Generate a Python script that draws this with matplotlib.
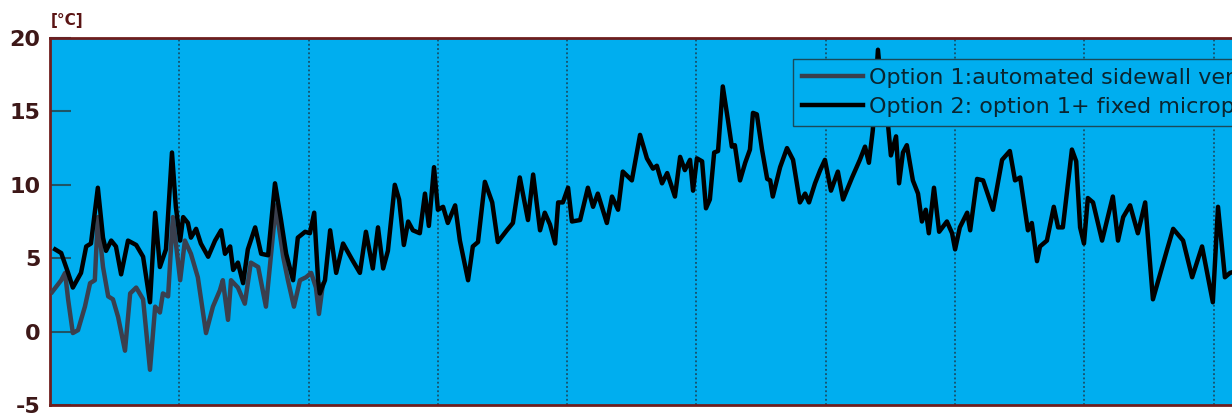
import matplotlib
matplotlib.use("Agg")
import matplotlib.pyplot as plt

# Daily mean indoor-outdoor temperature difference [°C]; x is day number
opt1_day = [0.5, 2.6, 3.5, 4.2, 5.3, 6.5, 8.1, 9.3, 10.4, 11.1, 12.3, 13.5, 14.6, 15.8,
            17.4, 18.6, 20.0, 21.6, 23.2, 24.4, 25.5, 26.2, 27.4, 28.5, 30.2, 31.3,
            32.7, 34.3, 36.2, 37.8, 39.4, 40.1, 41.3, 42.0, 43.6, 45.2, 46.6, 48.3,
            50.1, 52.4, 54.1, 55.2, 56.6, 58.0, 59.4, 60.6, 61.7, 62.4, 63.3]
opt1_temp = [2.7, 3.5, 4.0, 2.2, -0.1, 0.1, 1.7, 3.3, 3.5, 7.8, 4.4, 2.4, 2.2, 1.0,
             -1.3, 2.6, 3.0, 2.2, -2.6, 1.7, 1.3, 2.6, 2.4, 7.8, 3.5, 6.2,
             5.3, 3.7, -0.1, 1.7, 2.8, 3.5, 0.8, 3.5, 3.0, 1.9, 4.7, 4.4,
             1.7, 8.6, 5.1, 3.5, 1.7, 3.5, 3.7, 4.0, 3.0, 1.2, 3.2]

opt2_day = [1.2, 2.6, 4.2, 5.3, 7.2, 8.4, 9.5, 11.1, 12.3, 13.0, 14.2, 15.3, 16.5, 18.1,
            20.0, 21.6, 23.2, 24.4, 25.5, 26.9, 28.3, 29.2, 30.2, 30.9, 32.0, 32.7,
            33.9, 35.0, 36.7, 38.3, 39.7, 40.6, 41.8, 42.5, 43.6, 44.8, 45.9, 47.6,
            49.0, 50.6, 52.2, 53.6, 54.8, 56.4, 57.5, 59.2, 60.3, 61.3, 62.2, 62.6,
            63.8, 65.0, 66.4, 68.0, 70.1, 71.9, 73.3, 74.9, 76.1, 77.3, 78.4, 80.0,
            81.0, 82.1, 83.1, 84.2, 85.8, 87.0, 87.9, 89.1, 90.0, 91.2, 92.3, 94.0,
            95.1, 97.0, 98.1, 99.3, 100.9, 102.6, 103.9, 106.0, 107.4, 109.0, 110.9,
            112.1, 113.7, 114.8, 116.0, 117.2, 117.9, 119.0, 120.2, 121.1, 123.0,
            124.8, 126.0, 127.1, 129.2, 130.4, 131.8, 132.9, 135.0, 136.9, 138.5,
            139.9, 140.8, 142.0, 143.2, 145.0, 146.2, 147.3, 148.5, 149.2, 150.1,
            151.3, 152.2, 153.1, 154.1, 155.0, 156.1, 157.3, 158.2, 158.9, 160.1,
            161.3, 162.4, 163.1, 164.0, 165.2, 166.4, 167.1, 167.7, 169.4, 171.0,
            172.4, 174.0, 175.2, 176.1, 177.5, 178.7, 179.8, 181.2, 182.8, 184.0,
            186.1, 187.9, 189.1, 190.0, 190.9, 192.1, 193.3, 194.4, 195.1, 196.3,
            197.0, 197.9, 198.8, 200.2, 201.4, 202.3, 203.2, 203.9, 205.1, 206.3,
            208.1, 209.3, 210.0, 211.1, 212.8, 213.5, 215.1, 216.5, 218.8, 220.9,
            222.7, 223.9, 225.1, 226.9, 227.8, 229.0, 229.7, 231.3, 232.9, 233.9,
            235.0, 237.1, 238.1, 239.0, 239.9, 240.8, 242.0, 244.1, 246.6, 247.8,
            249.0, 250.6, 252.4, 254.1, 255.9, 259.2, 260.6, 262.9, 265.0, 267.3,
            269.8, 271.0, 272.6, 273.8, 276.1]
opt2_temp = [5.6, 5.35, 4.0, 3.0, 4.0, 5.8, 6.0, 9.8, 6.4, 5.5, 6.2, 5.8, 3.9, 6.2,
             5.9, 5.1, 2.0, 8.1, 4.4, 5.6, 12.2, 8.5, 6.2, 7.8, 7.4, 6.4,
             7.0, 6.0, 5.1, 6.2, 6.9, 5.3, 5.8, 4.2, 4.7, 3.3, 5.6, 7.1,
             5.3, 5.2, 10.1, 7.6, 5.3, 3.5, 6.4, 6.8, 6.7, 8.1, 3.5, 2.6,
             3.5, 6.9, 4.0, 6.0, 4.9, 4.0, 6.8, 4.3, 7.1, 4.3, 5.5, 10.0,
             9.0, 5.9, 7.5, 6.9, 6.7, 9.4, 7.2, 11.2, 8.3, 8.5, 7.4, 8.6,
             6.2, 3.5, 5.8, 6.1, 10.2, 8.8, 6.1, 6.9, 7.4, 10.5, 7.6,
             10.7, 6.9, 8.1, 7.3, 6.0, 8.8, 8.8, 9.8, 7.5, 7.6,
             9.8, 8.5, 9.4, 7.4, 9.2, 8.3, 10.9, 10.3, 13.4, 11.8,
             11.1, 11.3, 10.1, 10.8, 9.2, 11.9, 11.0, 11.7, 9.6, 11.8,
             11.6, 8.4, 9.0, 12.2, 12.3, 16.7, 14.4, 12.6, 12.7, 10.3,
             11.5, 12.4, 14.9, 14.8, 12.4, 10.4, 10.3, 9.2, 11.2, 12.5,
             11.7, 8.8, 9.4, 8.8, 10.1, 11.0, 11.7, 9.6, 10.9, 9.0,
             10.5, 11.7, 12.6, 11.5, 13.7, 19.2, 15.3, 14.2, 12.0, 13.3,
             10.1, 12.2, 12.7, 10.3, 9.4, 7.5, 8.3, 6.7, 9.8, 6.8,
             7.5, 6.7, 5.6, 7.1, 8.1, 6.9, 10.4, 10.3, 8.3, 11.7,
             12.3, 10.3, 10.5, 6.9, 7.4, 4.8, 5.8, 6.2, 8.5, 7.1,
             7.1, 12.4, 11.6, 7.1, 6.0, 9.1, 8.8, 6.2, 9.2, 6.2,
             7.8, 8.6, 6.7, 8.8, 2.2, 5.6, 7.0, 6.2, 3.7, 5.8,
             2.0, 8.5, 3.7, 4.0, 4.2]

series_labels = ["Option 1:automated sidewall ventilation",
                 "Option 2: option 1+ fixed microporous ceiling"]
y_ticks = [-5, 0, 5, 10, 15, 20]
month_lines = [30, 60, 90, 120, 150, 180, 210, 240, 270]

W, H = 1232, 420
fig = plt.figure(figsize=(W / 100, H / 100), dpi=100)
plt.rcParams['font.family'] = ['DejaVu Sans']

x_max = 290.0
ax_left, ax_right = 50, 50 + 4.31 * x_max
ax_top, ax_bot = 38, 405
ax = fig.add_axes([ax_left / W, (H - ax_bot) / H,
                   (ax_right - ax_left) / W, (ax_bot - ax_top) / H])
ax.set_facecolor('#00AEEF')

for d in month_lines:
    ax.axvline(d, color='#1c3e52', lw=1.1, ls=(0, (1.2, 1.6)), zorder=1)

ax.plot(opt1_day, opt1_temp, color='#3a3f4e', lw=3.2, label=series_labels[0], zorder=3)
ax.plot(opt2_day, opt2_temp, color='#000000', lw=3.2, label=series_labels[1], zorder=4)

ax.set_xlim(0, x_max)
ax.set_ylim(-5, 20)
ax.set_xticks([])
ax.set_yticks(y_ticks)
ax.set_yticklabels([str(v) for v in y_ticks], fontsize=16, fontweight='bold',
                   color='#3d1818')
ax.tick_params(axis='y', direction='in', length=15, width=1.5, color='#1f5566', pad=7)

spine_col = '#6e1e1e'
for side in ['left', 'top', 'bottom', 'right']:
    ax.spines[side].set_color(spine_col)
    ax.spines[side].set_linewidth(2.0)

fig.text(51 / W, 1 - 20 / H, '[°C]', fontsize=11, fontweight='bold',
         color='#5a1414', ha='left', va='center')

leg = ax.legend(loc='upper left', bbox_to_anchor=((793 - ax_left) / (ax_right - ax_left),
                                                   (ax_bot - 59) / (ax_bot - ax_top)),
                borderaxespad=0, fontsize=16, frameon=True, fancybox=False,
                handlelength=2.75, handletextpad=0.27, borderpad=0.4, labelspacing=0.4,
                labelcolor='#0a2530')
leg.get_frame().set_facecolor('#00AEEF')
leg.get_frame().set_edgecolor('#1a4a5a')
leg.get_frame().set_linewidth(1.0)
leg.get_frame().set_alpha(1.0)

fig.savefig('out.png', dpi=100)
